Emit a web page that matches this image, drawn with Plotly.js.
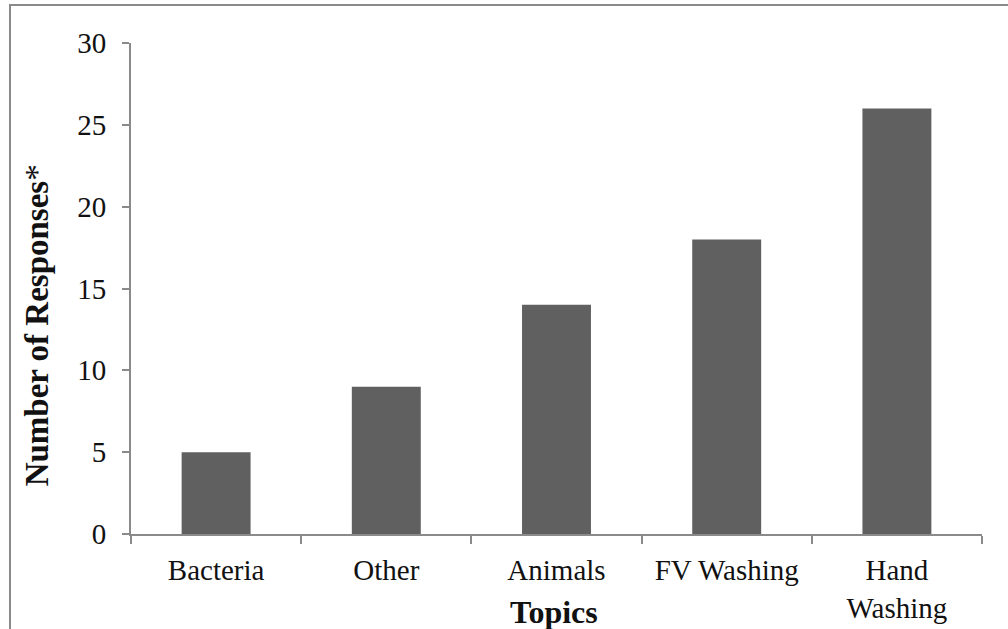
<!DOCTYPE html>
<html>
<head>
<meta charset="utf-8">
<script src="https://cdn.plot.ly/plotly-3.0.1.min.js"></script>
<style>
  html, body { margin: 0; padding: 0; background: #ffffff; }
  #wrap { position: relative; width: 1008px; height: 629px; overflow: hidden; }
  #chart { position: absolute; left: 0; top: 0; width: 1008px; height: 629px; }
  #frame { position: absolute; left: 9px; top: 4px; width: 1010px; height: 640px;
           border-top: 2px solid #8a8a8a; border-left: 2px solid #8a8a8a; pointer-events: none; }
</style>
</head>
<body>
<div id="wrap">
  <div id="chart"></div>
  <div id="frame"></div>
</div>
<script>
// Survey topics and how many responses mentioned each
const topics = ['Bacteria', 'Other', 'Animals', 'FV Washing', 'Hand<br>Washing'];
const responses = [5, 9, 14, 18, 26];
const yTicks = [0, 5, 10, 15, 20, 25, 30];

const serif = 'Liberation Serif, Times New Roman, serif';
const axisGray = '#8a8a8a';
const ink = '#111111';

const trace = {
  type: 'bar',
  x: topics,
  y: responses,
  marker: { color: '#606060', line: { width: 0 } },
  hoverinfo: 'skip'
};

const layout = {
  width: 1008,
  height: 629,
  margin: { l: 131, r: 25.5, t: 42.5, b: 95 },
  paper_bgcolor: '#ffffff',
  plot_bgcolor: '#ffffff',
  bargap: 0.595,
  showlegend: false,
  font: { family: serif, size: 29, color: ink },
  xaxis: {
    type: 'category',
    showgrid: false,
    zeroline: false,
    showline: true,
    linecolor: axisGray,
    linewidth: 2,
    ticks: 'outside',
    tickson: 'boundaries',
    ticklen: 8,
    tickwidth: 2,
    tickcolor: axisGray,
    ticklabelstandoff: 9,
    tickfont: { family: serif, size: 29, color: ink },
    fixedrange: true
  },
  yaxis: {
    range: [0, 30],
    tickvals: yTicks,
    ticktext: yTicks.map(String),
    showgrid: false,
    zeroline: false,
    showline: true,
    linecolor: axisGray,
    linewidth: 2,
    ticks: 'outside',
    ticklen: 7,
    tickwidth: 2,
    tickcolor: axisGray,
    ticklabelstandoff: 10,
    tickfont: { family: serif, size: 29, color: ink },
    fixedrange: true
  },
  annotations: [
    {
      text: '<b>Number of Responses</b>*',
      textangle: -90,
      xref: 'paper', yref: 'paper',
      x: -0.1104, y: 0.425,
      xanchor: 'center', yanchor: 'middle',
      showarrow: false,
      font: { family: serif, size: 33, color: ink }
    },
    {
      text: '<b>Topics</b>',
      xref: 'paper', yref: 'paper',
      x: 0.497, y: -0.159,
      xanchor: 'center', yanchor: 'middle',
      showarrow: false,
      font: { family: serif, size: 32, color: ink }
    }
  ]
};

Plotly.newPlot('chart', [trace], layout, { displayModeBar: false, staticPlot: true });
</script>
</body>
</html>
